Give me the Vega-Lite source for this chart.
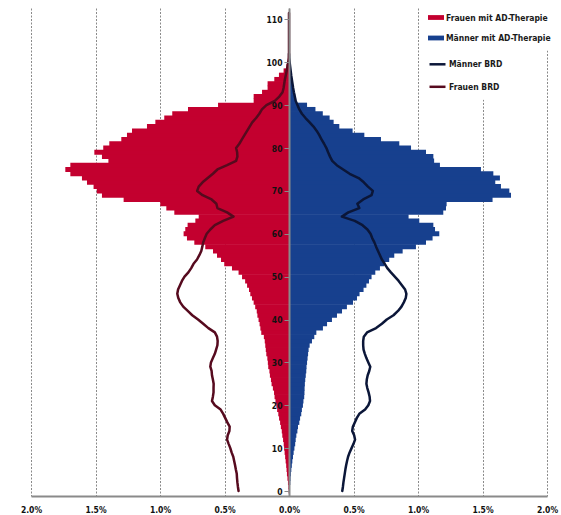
{
  "$schema": "https://vega.github.io/schema/vega-lite/v6.json",
  "width": 516,
  "height": 488,
  "autosize": {"type": "none"},
  "padding": {"left": 31, "top": 8, "right": 14, "bottom": 19},
  "background": "white",
  "config": {
    "view": {"stroke": null},
    "font": "DejaVu Sans Condensed",
    "axis": {"labelFont": "DejaVu Sans Condensed", "labelFontSize": 8.5, "labelFontWeight": "bold", "labelColor": "#111111"},
    "legend": {"labelFont": "DejaVu Sans Condensed", "labelFontSize": 8.5, "labelFontWeight": "bold", "labelColor": "#1a1a1a"}
  },
  "datasets": {
    "balken": [
      {"alter":0,"gruppe":"Frauen mit AD-Therapie","anteil":-0.003},{"alter":1,"gruppe":"Frauen mit AD-Therapie","anteil":-0.005},{"alter":2,"gruppe":"Frauen mit AD-Therapie","anteil":-0.008},{"alter":3,"gruppe":"Frauen mit AD-Therapie","anteil":-0.012},{"alter":4,"gruppe":"Frauen mit AD-Therapie","anteil":-0.016},{"alter":5,"gruppe":"Frauen mit AD-Therapie","anteil":-0.019},{"alter":6,"gruppe":"Frauen mit AD-Therapie","anteil":-0.022},{"alter":7,"gruppe":"Frauen mit AD-Therapie","anteil":-0.026},{"alter":8,"gruppe":"Frauen mit AD-Therapie","anteil":-0.030},{"alter":9,"gruppe":"Frauen mit AD-Therapie","anteil":-0.034},
      {"alter":10,"gruppe":"Frauen mit AD-Therapie","anteil":-0.038},{"alter":11,"gruppe":"Frauen mit AD-Therapie","anteil":-0.041},{"alter":12,"gruppe":"Frauen mit AD-Therapie","anteil":-0.046},{"alter":13,"gruppe":"Frauen mit AD-Therapie","anteil":-0.052},{"alter":14,"gruppe":"Frauen mit AD-Therapie","anteil":-0.056},{"alter":15,"gruppe":"Frauen mit AD-Therapie","anteil":-0.063},{"alter":16,"gruppe":"Frauen mit AD-Therapie","anteil":-0.069},{"alter":17,"gruppe":"Frauen mit AD-Therapie","anteil":-0.077},{"alter":18,"gruppe":"Frauen mit AD-Therapie","anteil":-0.083},{"alter":19,"gruppe":"Frauen mit AD-Therapie","anteil":-0.092},
      {"alter":20,"gruppe":"Frauen mit AD-Therapie","anteil":-0.098},{"alter":21,"gruppe":"Frauen mit AD-Therapie","anteil":-0.105},{"alter":22,"gruppe":"Frauen mit AD-Therapie","anteil":-0.112},{"alter":23,"gruppe":"Frauen mit AD-Therapie","anteil":-0.116},{"alter":24,"gruppe":"Frauen mit AD-Therapie","anteil":-0.125},{"alter":25,"gruppe":"Frauen mit AD-Therapie","anteil":-0.135},{"alter":26,"gruppe":"Frauen mit AD-Therapie","anteil":-0.140},{"alter":27,"gruppe":"Frauen mit AD-Therapie","anteil":-0.148},{"alter":28,"gruppe":"Frauen mit AD-Therapie","anteil":-0.152},{"alter":29,"gruppe":"Frauen mit AD-Therapie","anteil":-0.161},
      {"alter":30,"gruppe":"Frauen mit AD-Therapie","anteil":-0.164},{"alter":31,"gruppe":"Frauen mit AD-Therapie","anteil":-0.168},{"alter":32,"gruppe":"Frauen mit AD-Therapie","anteil":-0.176},{"alter":33,"gruppe":"Frauen mit AD-Therapie","anteil":-0.180},{"alter":34,"gruppe":"Frauen mit AD-Therapie","anteil":-0.184},{"alter":35,"gruppe":"Frauen mit AD-Therapie","anteil":-0.188},{"alter":36,"gruppe":"Frauen mit AD-Therapie","anteil":-0.195},{"alter":37,"gruppe":"Frauen mit AD-Therapie","anteil":-0.215},{"alter":38,"gruppe":"Frauen mit AD-Therapie","anteil":-0.222},{"alter":39,"gruppe":"Frauen mit AD-Therapie","anteil":-0.228},
      {"alter":40,"gruppe":"Frauen mit AD-Therapie","anteil":-0.236},{"alter":41,"gruppe":"Frauen mit AD-Therapie","anteil":-0.245},{"alter":42,"gruppe":"Frauen mit AD-Therapie","anteil":-0.250},{"alter":43,"gruppe":"Frauen mit AD-Therapie","anteil":-0.262},{"alter":44,"gruppe":"Frauen mit AD-Therapie","anteil":-0.274},{"alter":45,"gruppe":"Frauen mit AD-Therapie","anteil":-0.287},{"alter":46,"gruppe":"Frauen mit AD-Therapie","anteil":-0.300},{"alter":47,"gruppe":"Frauen mit AD-Therapie","anteil":-0.310},{"alter":48,"gruppe":"Frauen mit AD-Therapie","anteil":-0.325},{"alter":49,"gruppe":"Frauen mit AD-Therapie","anteil":-0.340},
      {"alter":50,"gruppe":"Frauen mit AD-Therapie","anteil":-0.364},{"alter":51,"gruppe":"Frauen mit AD-Therapie","anteil":-0.391},{"alter":52,"gruppe":"Frauen mit AD-Therapie","anteil":-0.442},{"alter":53,"gruppe":"Frauen mit AD-Therapie","anteil":-0.502},{"alter":54,"gruppe":"Frauen mit AD-Therapie","anteil":-0.527},{"alter":55,"gruppe":"Frauen mit AD-Therapie","anteil":-0.558},{"alter":56,"gruppe":"Frauen mit AD-Therapie","anteil":-0.589},{"alter":57,"gruppe":"Frauen mit AD-Therapie","anteil":-0.649},{"alter":58,"gruppe":"Frauen mit AD-Therapie","anteil":-0.734},{"alter":59,"gruppe":"Frauen mit AD-Therapie","anteil":-0.791},
      {"alter":60,"gruppe":"Frauen mit AD-Therapie","anteil":-0.817},{"alter":61,"gruppe":"Frauen mit AD-Therapie","anteil":-0.804},{"alter":62,"gruppe":"Frauen mit AD-Therapie","anteil":-0.786},{"alter":63,"gruppe":"Frauen mit AD-Therapie","anteil":-0.726},{"alter":64,"gruppe":"Frauen mit AD-Therapie","anteil":-0.700},{"alter":65,"gruppe":"Frauen mit AD-Therapie","anteil":-0.889},{"alter":66,"gruppe":"Frauen mit AD-Therapie","anteil":-0.951},{"alter":67,"gruppe":"Frauen mit AD-Therapie","anteil":-0.998},{"alter":68,"gruppe":"Frauen mit AD-Therapie","anteil":-1.282},{"alter":69,"gruppe":"Frauen mit AD-Therapie","anteil":-1.450},
      {"alter":70,"gruppe":"Frauen mit AD-Therapie","anteil":-1.490},{"alter":71,"gruppe":"Frauen mit AD-Therapie","anteil":-1.515},{"alter":72,"gruppe":"Frauen mit AD-Therapie","anteil":-1.566},{"alter":73,"gruppe":"Frauen mit AD-Therapie","anteil":-1.605},{"alter":74,"gruppe":"Frauen mit AD-Therapie","anteil":-1.695},{"alter":75,"gruppe":"Frauen mit AD-Therapie","anteil":-1.734},{"alter":76,"gruppe":"Frauen mit AD-Therapie","anteil":-1.695},{"alter":77,"gruppe":"Frauen mit AD-Therapie","anteil":-1.400},{"alter":78,"gruppe":"Frauen mit AD-Therapie","anteil":-1.450},{"alter":79,"gruppe":"Frauen mit AD-Therapie","anteil":-1.509},
      {"alter":80,"gruppe":"Frauen mit AD-Therapie","anteil":-1.440},{"alter":81,"gruppe":"Frauen mit AD-Therapie","anteil":-1.393},{"alter":82,"gruppe":"Frauen mit AD-Therapie","anteil":-1.300},{"alter":83,"gruppe":"Frauen mit AD-Therapie","anteil":-1.256},{"alter":84,"gruppe":"Frauen mit AD-Therapie","anteil":-1.217},{"alter":85,"gruppe":"Frauen mit AD-Therapie","anteil":-1.101},{"alter":86,"gruppe":"Frauen mit AD-Therapie","anteil":-1.036},{"alter":87,"gruppe":"Frauen mit AD-Therapie","anteil":-0.967},{"alter":88,"gruppe":"Frauen mit AD-Therapie","anteil":-0.905},{"alter":89,"gruppe":"Frauen mit AD-Therapie","anteil":-0.783},
      {"alter":90,"gruppe":"Frauen mit AD-Therapie","anteil":-0.550},{"alter":91,"gruppe":"Frauen mit AD-Therapie","anteil":-0.274},{"alter":92,"gruppe":"Frauen mit AD-Therapie","anteil":-0.274},{"alter":93,"gruppe":"Frauen mit AD-Therapie","anteil":-0.209},{"alter":94,"gruppe":"Frauen mit AD-Therapie","anteil":-0.166},{"alter":95,"gruppe":"Frauen mit AD-Therapie","anteil":-0.166},{"alter":96,"gruppe":"Frauen mit AD-Therapie","anteil":-0.114},{"alter":97,"gruppe":"Frauen mit AD-Therapie","anteil":-0.078},{"alter":98,"gruppe":"Frauen mit AD-Therapie","anteil":-0.042},{"alter":99,"gruppe":"Frauen mit AD-Therapie","anteil":-0.020},{"alter":100,"gruppe":"Frauen mit AD-Therapie","anteil":-0.008},
      {"alter":0,"gruppe":"Männer mit AD-Therapie","anteil":0.005},{"alter":1,"gruppe":"Männer mit AD-Therapie","anteil":0.007},{"alter":2,"gruppe":"Männer mit AD-Therapie","anteil":0.010},{"alter":3,"gruppe":"Männer mit AD-Therapie","anteil":0.012},{"alter":4,"gruppe":"Männer mit AD-Therapie","anteil":0.015},{"alter":5,"gruppe":"Männer mit AD-Therapie","anteil":0.018},{"alter":6,"gruppe":"Männer mit AD-Therapie","anteil":0.022},{"alter":7,"gruppe":"Männer mit AD-Therapie","anteil":0.026},{"alter":8,"gruppe":"Männer mit AD-Therapie","anteil":0.031},{"alter":9,"gruppe":"Männer mit AD-Therapie","anteil":0.036},
      {"alter":10,"gruppe":"Männer mit AD-Therapie","anteil":0.042},{"alter":11,"gruppe":"Männer mit AD-Therapie","anteil":0.048},{"alter":12,"gruppe":"Männer mit AD-Therapie","anteil":0.052},{"alter":13,"gruppe":"Männer mit AD-Therapie","anteil":0.057},{"alter":14,"gruppe":"Männer mit AD-Therapie","anteil":0.065},{"alter":15,"gruppe":"Männer mit AD-Therapie","anteil":0.070},{"alter":16,"gruppe":"Männer mit AD-Therapie","anteil":0.080},{"alter":17,"gruppe":"Männer mit AD-Therapie","anteil":0.086},{"alter":18,"gruppe":"Männer mit AD-Therapie","anteil":0.095},{"alter":19,"gruppe":"Männer mit AD-Therapie","anteil":0.100},
      {"alter":20,"gruppe":"Männer mit AD-Therapie","anteil":0.108},{"alter":21,"gruppe":"Männer mit AD-Therapie","anteil":0.112},{"alter":22,"gruppe":"Männer mit AD-Therapie","anteil":0.118},{"alter":23,"gruppe":"Männer mit AD-Therapie","anteil":0.120},{"alter":24,"gruppe":"Männer mit AD-Therapie","anteil":0.121},{"alter":25,"gruppe":"Männer mit AD-Therapie","anteil":0.123},{"alter":26,"gruppe":"Männer mit AD-Therapie","anteil":0.126},{"alter":27,"gruppe":"Männer mit AD-Therapie","anteil":0.130},{"alter":28,"gruppe":"Männer mit AD-Therapie","anteil":0.134},{"alter":29,"gruppe":"Männer mit AD-Therapie","anteil":0.136},
      {"alter":30,"gruppe":"Männer mit AD-Therapie","anteil":0.140},{"alter":31,"gruppe":"Männer mit AD-Therapie","anteil":0.144},{"alter":32,"gruppe":"Männer mit AD-Therapie","anteil":0.148},{"alter":33,"gruppe":"Männer mit AD-Therapie","anteil":0.152},{"alter":34,"gruppe":"Männer mit AD-Therapie","anteil":0.160},{"alter":35,"gruppe":"Männer mit AD-Therapie","anteil":0.178},{"alter":36,"gruppe":"Männer mit AD-Therapie","anteil":0.196},{"alter":37,"gruppe":"Männer mit AD-Therapie","anteil":0.212},{"alter":38,"gruppe":"Männer mit AD-Therapie","anteil":0.263},{"alter":39,"gruppe":"Männer mit AD-Therapie","anteil":0.295},
      {"alter":40,"gruppe":"Männer mit AD-Therapie","anteil":0.333},{"alter":41,"gruppe":"Männer mit AD-Therapie","anteil":0.372},{"alter":42,"gruppe":"Männer mit AD-Therapie","anteil":0.411},{"alter":43,"gruppe":"Männer mit AD-Therapie","anteil":0.449},{"alter":44,"gruppe":"Männer mit AD-Therapie","anteil":0.496},{"alter":45,"gruppe":"Männer mit AD-Therapie","anteil":0.527},{"alter":46,"gruppe":"Männer mit AD-Therapie","anteil":0.547},{"alter":47,"gruppe":"Männer mit AD-Therapie","anteil":0.578},{"alter":48,"gruppe":"Männer mit AD-Therapie","anteil":0.600},{"alter":49,"gruppe":"Männer mit AD-Therapie","anteil":0.620},
      {"alter":50,"gruppe":"Männer mit AD-Therapie","anteil":0.640},{"alter":51,"gruppe":"Männer mit AD-Therapie","anteil":0.669},{"alter":52,"gruppe":"Männer mit AD-Therapie","anteil":0.705},{"alter":53,"gruppe":"Männer mit AD-Therapie","anteil":0.739},{"alter":54,"gruppe":"Männer mit AD-Therapie","anteil":0.777},{"alter":55,"gruppe":"Männer mit AD-Therapie","anteil":0.816},{"alter":56,"gruppe":"Männer mit AD-Therapie","anteil":0.881},{"alter":57,"gruppe":"Männer mit AD-Therapie","anteil":0.984},{"alter":58,"gruppe":"Männer mit AD-Therapie","anteil":1.062},{"alter":59,"gruppe":"Männer mit AD-Therapie","anteil":1.113},
      {"alter":60,"gruppe":"Männer mit AD-Therapie","anteil":1.165},{"alter":61,"gruppe":"Männer mit AD-Therapie","anteil":1.132},{"alter":62,"gruppe":"Männer mit AD-Therapie","anteil":1.119},{"alter":63,"gruppe":"Männer mit AD-Therapie","anteil":1.010},{"alter":64,"gruppe":"Männer mit AD-Therapie","anteil":0.927},{"alter":65,"gruppe":"Männer mit AD-Therapie","anteil":1.196},{"alter":66,"gruppe":"Männer mit AD-Therapie","anteil":1.217},{"alter":67,"gruppe":"Männer mit AD-Therapie","anteil":1.222},{"alter":68,"gruppe":"Männer mit AD-Therapie","anteil":1.578},{"alter":69,"gruppe":"Männer mit AD-Therapie","anteil":1.721},
      {"alter":70,"gruppe":"Männer mit AD-Therapie","anteil":1.708},{"alter":71,"gruppe":"Männer mit AD-Therapie","anteil":1.643},{"alter":72,"gruppe":"Männer mit AD-Therapie","anteil":1.599},{"alter":73,"gruppe":"Männer mit AD-Therapie","anteil":1.635},{"alter":74,"gruppe":"Männer mit AD-Therapie","anteil":1.584},{"alter":75,"gruppe":"Männer mit AD-Therapie","anteil":1.488},{"alter":76,"gruppe":"Männer mit AD-Therapie","anteil":1.170},{"alter":77,"gruppe":"Männer mit AD-Therapie","anteil":1.125},{"alter":78,"gruppe":"Männer mit AD-Therapie","anteil":1.119},{"alter":79,"gruppe":"Männer mit AD-Therapie","anteil":1.062},
      {"alter":80,"gruppe":"Männer mit AD-Therapie","anteil":0.946},{"alter":81,"gruppe":"Männer mit AD-Therapie","anteil":0.855},{"alter":82,"gruppe":"Männer mit AD-Therapie","anteil":0.713},{"alter":83,"gruppe":"Männer mit AD-Therapie","anteil":0.584},{"alter":84,"gruppe":"Männer mit AD-Therapie","anteil":0.493},{"alter":85,"gruppe":"Männer mit AD-Therapie","anteil":0.390},{"alter":86,"gruppe":"Männer mit AD-Therapie","anteil":0.346},{"alter":87,"gruppe":"Männer mit AD-Therapie","anteil":0.315},{"alter":88,"gruppe":"Männer mit AD-Therapie","anteil":0.262},{"alter":89,"gruppe":"Männer mit AD-Therapie","anteil":0.205},
      {"alter":90,"gruppe":"Männer mit AD-Therapie","anteil":0.140},{"alter":91,"gruppe":"Männer mit AD-Therapie","anteil":0.055},{"alter":92,"gruppe":"Männer mit AD-Therapie","anteil":0.048},{"alter":93,"gruppe":"Männer mit AD-Therapie","anteil":0.038},{"alter":94,"gruppe":"Männer mit AD-Therapie","anteil":0.033},{"alter":95,"gruppe":"Männer mit AD-Therapie","anteil":0.026},{"alter":96,"gruppe":"Männer mit AD-Therapie","anteil":0.020},{"alter":97,"gruppe":"Männer mit AD-Therapie","anteil":0.014},{"alter":98,"gruppe":"Männer mit AD-Therapie","anteil":0.010},{"alter":99,"gruppe":"Männer mit AD-Therapie","anteil":0.006},{"alter":100,"gruppe":"Männer mit AD-Therapie","anteil":0.003}
    ],
    "linien": [
      {"alter":0,"gruppe":"Männer BRD","anteil":0.413},{"alter":1,"gruppe":"Männer BRD","anteil":0.418},{"alter":2,"gruppe":"Männer BRD","anteil":0.422},{"alter":3,"gruppe":"Männer BRD","anteil":0.427},{"alter":4,"gruppe":"Männer BRD","anteil":0.432},{"alter":5,"gruppe":"Männer BRD","anteil":0.437},{"alter":6,"gruppe":"Männer BRD","anteil":0.443},{"alter":7,"gruppe":"Männer BRD","anteil":0.450},{"alter":8,"gruppe":"Männer BRD","anteil":0.458},{"alter":9,"gruppe":"Männer BRD","anteil":0.470},
      {"alter":10,"gruppe":"Männer BRD","anteil":0.485},{"alter":11,"gruppe":"Männer BRD","anteil":0.500},{"alter":12,"gruppe":"Männer BRD","anteil":0.512},{"alter":13,"gruppe":"Männer BRD","anteil":0.505},{"alter":14,"gruppe":"Männer BRD","anteil":0.490},{"alter":15,"gruppe":"Männer BRD","anteil":0.495},{"alter":16,"gruppe":"Männer BRD","anteil":0.510},{"alter":17,"gruppe":"Männer BRD","anteil":0.525},{"alter":18,"gruppe":"Männer BRD","anteil":0.545},{"alter":19,"gruppe":"Männer BRD","anteil":0.590},
      {"alter":20,"gruppe":"Männer BRD","anteil":0.615},{"alter":21,"gruppe":"Männer BRD","anteil":0.628},{"alter":22,"gruppe":"Männer BRD","anteil":0.625},{"alter":23,"gruppe":"Männer BRD","anteil":0.617},{"alter":24,"gruppe":"Männer BRD","anteil":0.607},{"alter":25,"gruppe":"Männer BRD","anteil":0.600},{"alter":26,"gruppe":"Männer BRD","anteil":0.603},{"alter":27,"gruppe":"Männer BRD","anteil":0.610},{"alter":28,"gruppe":"Männer BRD","anteil":0.622},{"alter":29,"gruppe":"Männer BRD","anteil":0.630},
      {"alter":30,"gruppe":"Männer BRD","anteil":0.615},{"alter":31,"gruppe":"Männer BRD","anteil":0.600},{"alter":32,"gruppe":"Männer BRD","anteil":0.588},{"alter":33,"gruppe":"Männer BRD","anteil":0.578},{"alter":34,"gruppe":"Männer BRD","anteil":0.575},{"alter":35,"gruppe":"Männer BRD","anteil":0.575},{"alter":36,"gruppe":"Männer BRD","anteil":0.580},{"alter":37,"gruppe":"Männer BRD","anteil":0.605},{"alter":38,"gruppe":"Männer BRD","anteil":0.675},{"alter":39,"gruppe":"Männer BRD","anteil":0.720},
      {"alter":40,"gruppe":"Männer BRD","anteil":0.758},{"alter":41,"gruppe":"Männer BRD","anteil":0.810},{"alter":42,"gruppe":"Männer BRD","anteil":0.845},{"alter":43,"gruppe":"Männer BRD","anteil":0.872},{"alter":44,"gruppe":"Männer BRD","anteil":0.890},{"alter":45,"gruppe":"Männer BRD","anteil":0.905},{"alter":46,"gruppe":"Männer BRD","anteil":0.910},{"alter":47,"gruppe":"Männer BRD","anteil":0.900},{"alter":48,"gruppe":"Männer BRD","anteil":0.875},{"alter":49,"gruppe":"Männer BRD","anteil":0.850},
      {"alter":50,"gruppe":"Männer BRD","anteil":0.820},{"alter":51,"gruppe":"Männer BRD","anteil":0.790},{"alter":52,"gruppe":"Männer BRD","anteil":0.762},{"alter":53,"gruppe":"Männer BRD","anteil":0.742},{"alter":54,"gruppe":"Männer BRD","anteil":0.720},{"alter":55,"gruppe":"Männer BRD","anteil":0.705},{"alter":56,"gruppe":"Männer BRD","anteil":0.690},{"alter":57,"gruppe":"Männer BRD","anteil":0.675},{"alter":58,"gruppe":"Männer BRD","anteil":0.662},{"alter":59,"gruppe":"Männer BRD","anteil":0.645},
      {"alter":60,"gruppe":"Männer BRD","anteil":0.632},{"alter":61,"gruppe":"Männer BRD","anteil":0.608},{"alter":62,"gruppe":"Männer BRD","anteil":0.570},{"alter":63,"gruppe":"Männer BRD","anteil":0.510},{"alter":64,"gruppe":"Männer BRD","anteil":0.410},{"alter":65,"gruppe":"Männer BRD","anteil":0.460},{"alter":66,"gruppe":"Männer BRD","anteil":0.545},{"alter":67,"gruppe":"Männer BRD","anteil":0.530},{"alter":68,"gruppe":"Männer BRD","anteil":0.575},{"alter":69,"gruppe":"Männer BRD","anteil":0.640},
      {"alter":70,"gruppe":"Männer BRD","anteil":0.650},{"alter":71,"gruppe":"Männer BRD","anteil":0.612},{"alter":72,"gruppe":"Männer BRD","anteil":0.580},{"alter":73,"gruppe":"Männer BRD","anteil":0.540},{"alter":74,"gruppe":"Männer BRD","anteil":0.470},{"alter":75,"gruppe":"Männer BRD","anteil":0.420},{"alter":76,"gruppe":"Männer BRD","anteil":0.370},{"alter":77,"gruppe":"Männer BRD","anteil":0.335},{"alter":78,"gruppe":"Männer BRD","anteil":0.318},{"alter":79,"gruppe":"Männer BRD","anteil":0.303},
      {"alter":80,"gruppe":"Männer BRD","anteil":0.290},{"alter":81,"gruppe":"Männer BRD","anteil":0.272},{"alter":82,"gruppe":"Männer BRD","anteil":0.252},{"alter":83,"gruppe":"Männer BRD","anteil":0.235},{"alter":84,"gruppe":"Männer BRD","anteil":0.215},{"alter":85,"gruppe":"Männer BRD","anteil":0.190},{"alter":86,"gruppe":"Männer BRD","anteil":0.160},{"alter":87,"gruppe":"Männer BRD","anteil":0.128},{"alter":88,"gruppe":"Männer BRD","anteil":0.100},{"alter":89,"gruppe":"Männer BRD","anteil":0.080},
      {"alter":90,"gruppe":"Männer BRD","anteil":0.066},{"alter":91,"gruppe":"Männer BRD","anteil":0.052},{"alter":92,"gruppe":"Männer BRD","anteil":0.045},{"alter":93,"gruppe":"Männer BRD","anteil":0.038},{"alter":94,"gruppe":"Männer BRD","anteil":0.032},{"alter":95,"gruppe":"Männer BRD","anteil":0.027},{"alter":96,"gruppe":"Männer BRD","anteil":0.022},{"alter":97,"gruppe":"Männer BRD","anteil":0.017},{"alter":98,"gruppe":"Männer BRD","anteil":0.013},{"alter":99,"gruppe":"Männer BRD","anteil":0.009},{"alter":100,"gruppe":"Männer BRD","anteil":0.005},{"alter":101,"gruppe":"Männer BRD","anteil":0.002},{"alter":102,"gruppe":"Männer BRD","anteil":0.0},
      {"alter":0,"gruppe":"Frauen BRD","anteil":-0.391},{"alter":1,"gruppe":"Frauen BRD","anteil":-0.396},{"alter":2,"gruppe":"Frauen BRD","anteil":-0.400},{"alter":3,"gruppe":"Frauen BRD","anteil":-0.403},{"alter":4,"gruppe":"Frauen BRD","anteil":-0.405},{"alter":5,"gruppe":"Frauen BRD","anteil":-0.412},{"alter":6,"gruppe":"Frauen BRD","anteil":-0.418},{"alter":7,"gruppe":"Frauen BRD","anteil":-0.425},{"alter":8,"gruppe":"Frauen BRD","anteil":-0.432},{"alter":9,"gruppe":"Frauen BRD","anteil":-0.445},
      {"alter":10,"gruppe":"Frauen BRD","anteil":-0.455},{"alter":11,"gruppe":"Frauen BRD","anteil":-0.468},{"alter":12,"gruppe":"Frauen BRD","anteil":-0.480},{"alter":13,"gruppe":"Frauen BRD","anteil":-0.475},{"alter":14,"gruppe":"Frauen BRD","anteil":-0.462},{"alter":15,"gruppe":"Frauen BRD","anteil":-0.460},{"alter":16,"gruppe":"Frauen BRD","anteil":-0.478},{"alter":17,"gruppe":"Frauen BRD","anteil":-0.494},{"alter":18,"gruppe":"Frauen BRD","anteil":-0.510},{"alter":19,"gruppe":"Frauen BRD","anteil":-0.530},
      {"alter":20,"gruppe":"Frauen BRD","anteil":-0.575},{"alter":21,"gruppe":"Frauen BRD","anteil":-0.597},{"alter":22,"gruppe":"Frauen BRD","anteil":-0.590},{"alter":23,"gruppe":"Frauen BRD","anteil":-0.585},{"alter":24,"gruppe":"Frauen BRD","anteil":-0.585},{"alter":25,"gruppe":"Frauen BRD","anteil":-0.584},{"alter":26,"gruppe":"Frauen BRD","anteil":-0.590},{"alter":27,"gruppe":"Frauen BRD","anteil":-0.597},{"alter":28,"gruppe":"Frauen BRD","anteil":-0.600},{"alter":29,"gruppe":"Frauen BRD","anteil":-0.610},
      {"alter":30,"gruppe":"Frauen BRD","anteil":-0.605},{"alter":31,"gruppe":"Frauen BRD","anteil":-0.590},{"alter":32,"gruppe":"Frauen BRD","anteil":-0.575},{"alter":33,"gruppe":"Frauen BRD","anteil":-0.565},{"alter":34,"gruppe":"Frauen BRD","anteil":-0.555},{"alter":35,"gruppe":"Frauen BRD","anteil":-0.553},{"alter":36,"gruppe":"Frauen BRD","anteil":-0.558},{"alter":37,"gruppe":"Frauen BRD","anteil":-0.575},{"alter":38,"gruppe":"Frauen BRD","anteil":-0.625},{"alter":39,"gruppe":"Frauen BRD","anteil":-0.665},
      {"alter":40,"gruppe":"Frauen BRD","anteil":-0.705},{"alter":41,"gruppe":"Frauen BRD","anteil":-0.750},{"alter":42,"gruppe":"Frauen BRD","anteil":-0.785},{"alter":43,"gruppe":"Frauen BRD","anteil":-0.820},{"alter":44,"gruppe":"Frauen BRD","anteil":-0.843},{"alter":45,"gruppe":"Frauen BRD","anteil":-0.858},{"alter":46,"gruppe":"Frauen BRD","anteil":-0.866},{"alter":47,"gruppe":"Frauen BRD","anteil":-0.860},{"alter":48,"gruppe":"Frauen BRD","anteil":-0.845},{"alter":49,"gruppe":"Frauen BRD","anteil":-0.830},
      {"alter":50,"gruppe":"Frauen BRD","anteil":-0.810},{"alter":51,"gruppe":"Frauen BRD","anteil":-0.780},{"alter":52,"gruppe":"Frauen BRD","anteil":-0.758},{"alter":53,"gruppe":"Frauen BRD","anteil":-0.740},{"alter":54,"gruppe":"Frauen BRD","anteil":-0.713},{"alter":55,"gruppe":"Frauen BRD","anteil":-0.695},{"alter":56,"gruppe":"Frauen BRD","anteil":-0.680},{"alter":57,"gruppe":"Frauen BRD","anteil":-0.672},{"alter":58,"gruppe":"Frauen BRD","anteil":-0.665},{"alter":59,"gruppe":"Frauen BRD","anteil":-0.652},
      {"alter":60,"gruppe":"Frauen BRD","anteil":-0.638},{"alter":61,"gruppe":"Frauen BRD","anteil":-0.610},{"alter":62,"gruppe":"Frauen BRD","anteil":-0.575},{"alter":63,"gruppe":"Frauen BRD","anteil":-0.510},{"alter":64,"gruppe":"Frauen BRD","anteil":-0.430},{"alter":65,"gruppe":"Frauen BRD","anteil":-0.480},{"alter":66,"gruppe":"Frauen BRD","anteil":-0.555},{"alter":67,"gruppe":"Frauen BRD","anteil":-0.563},{"alter":68,"gruppe":"Frauen BRD","anteil":-0.600},{"alter":69,"gruppe":"Frauen BRD","anteil":-0.670},
      {"alter":70,"gruppe":"Frauen BRD","anteil":-0.712},{"alter":71,"gruppe":"Frauen BRD","anteil":-0.700},{"alter":72,"gruppe":"Frauen BRD","anteil":-0.670},{"alter":73,"gruppe":"Frauen BRD","anteil":-0.630},{"alter":74,"gruppe":"Frauen BRD","anteil":-0.590},{"alter":75,"gruppe":"Frauen BRD","anteil":-0.555},{"alter":76,"gruppe":"Frauen BRD","anteil":-0.480},{"alter":77,"gruppe":"Frauen BRD","anteil":-0.410},{"alter":78,"gruppe":"Frauen BRD","anteil":-0.400},{"alter":79,"gruppe":"Frauen BRD","anteil":-0.402},
      {"alter":80,"gruppe":"Frauen BRD","anteil":-0.410},{"alter":81,"gruppe":"Frauen BRD","anteil":-0.385},{"alter":82,"gruppe":"Frauen BRD","anteil":-0.365},{"alter":83,"gruppe":"Frauen BRD","anteil":-0.345},{"alter":84,"gruppe":"Frauen BRD","anteil":-0.325},{"alter":85,"gruppe":"Frauen BRD","anteil":-0.305},{"alter":86,"gruppe":"Frauen BRD","anteil":-0.285},{"alter":87,"gruppe":"Frauen BRD","anteil":-0.255},{"alter":88,"gruppe":"Frauen BRD","anteil":-0.230},{"alter":89,"gruppe":"Frauen BRD","anteil":-0.210},
      {"alter":90,"gruppe":"Frauen BRD","anteil":-0.175},{"alter":91,"gruppe":"Frauen BRD","anteil":-0.110},{"alter":92,"gruppe":"Frauen BRD","anteil":-0.075},{"alter":93,"gruppe":"Frauen BRD","anteil":-0.050},{"alter":94,"gruppe":"Frauen BRD","anteil":-0.042},{"alter":95,"gruppe":"Frauen BRD","anteil":-0.037},{"alter":96,"gruppe":"Frauen BRD","anteil":-0.032},{"alter":97,"gruppe":"Frauen BRD","anteil":-0.025},{"alter":98,"gruppe":"Frauen BRD","anteil":-0.018},{"alter":99,"gruppe":"Frauen BRD","anteil":-0.012},{"alter":100,"gruppe":"Frauen BRD","anteil":-0.006},{"alter":101,"gruppe":"Frauen BRD","anteil":-0.002},
      {"alter":102,"gruppe":"Frauen BRD","anteil":0.0},{"alter":104,"gruppe":"Frauen BRD","anteil":0.0},{"alter":106,"gruppe":"Frauen BRD","anteil":0.0},{"alter":108,"gruppe":"Frauen BRD","anteil":0.0},{"alter":110,"gruppe":"Frauen BRD","anteil":0.0},{"alter":111.5,"gruppe":"Frauen BRD","anteil":0.0}
    ]
  },
  "encoding": {
    "x": {
      "field": "anteil", "type": "quantitative", "stack": null,
      "scale": {"domain": [-2, 2], "nice": false, "zero": false},
      "axis": {
        "title": null, "values": [-2, -1.5, -1, -0.5, 0, 0.5, 1, 1.5, 2],
        "labelExpr": "format(abs(datum.value), '.1f') + '%'",
        "labelFlush": false, "ticks": false, "labelPadding": 9,
        "grid": true, "gridColor": "#8a8a8a", "gridDash": [2, 1.5], "gridWidth": 1,
        "domainColor": "#8a8a8a", "domainWidth": 2, "zindex": 0
      }
    },
    "y": {
      "field": "alter", "type": "quantitative",
      "scale": {"domain": [0, 111.5], "nice": false, "zero": false},
      "axis": {
        "title": null, "orient": "left", "offset": -258,
        "values": [0, 10, 20, 30, 40, 50, 60, 70, 80, 90, 100, 110],
        "grid": false, "tickSize": 5, "tickColor": "#8a8a8a", "labelPadding": 2,
        "domainColor": "#8a8a8a", "domainWidth": 2, "zindex": 1
      }
    }
  },
  "layer": [
    {
      "data": {"name": "balken"},
      "mark": {"type": "bar", "orient": "horizontal", "size": 5},
      "encoding": {
        "fill": {
          "field": "gruppe", "type": "nominal",
          "scale": {"domain": ["Frauen mit AD-Therapie", "Männer mit AD-Therapie"], "range": ["#C3002F", "#17408E"]},
          "legend": {
            "title": null, "orient": "none", "legendX": 389, "legendY": -6.5,
            "symbolType": "M-1,-0.3H1V0.3H-1Z", "symbolSize": 256, "symbolStrokeWidth": 0,
            "labelOffset": 2, "rowPadding": 7.5, "padding": 8, "fillColor": "white"
          }
        }
      }
    },
    {
      "data": {"name": "linien"},
      "mark": {"type": "line", "strokeWidth": 2.5, "strokeJoin": "round", "strokeCap": "round"},
      "encoding": {
        "stroke": {
          "field": "gruppe", "type": "nominal",
          "scale": {"domain": ["Männer BRD", "Frauen BRD"], "range": ["#0B1638", "#560A1E"]},
          "legend": {
            "title": null, "orient": "none", "legendX": 389, "legendY": 38.8,
            "symbolType": "stroke", "symbolSize": 256, "symbolStrokeWidth": 2.5,
            "labelOffset": 2, "rowPadding": 7.5, "padding": 8, "fillColor": "white"
          }
        },
        "order": {"field": "alter", "type": "quantitative"}
      }
    }
  ]
}
